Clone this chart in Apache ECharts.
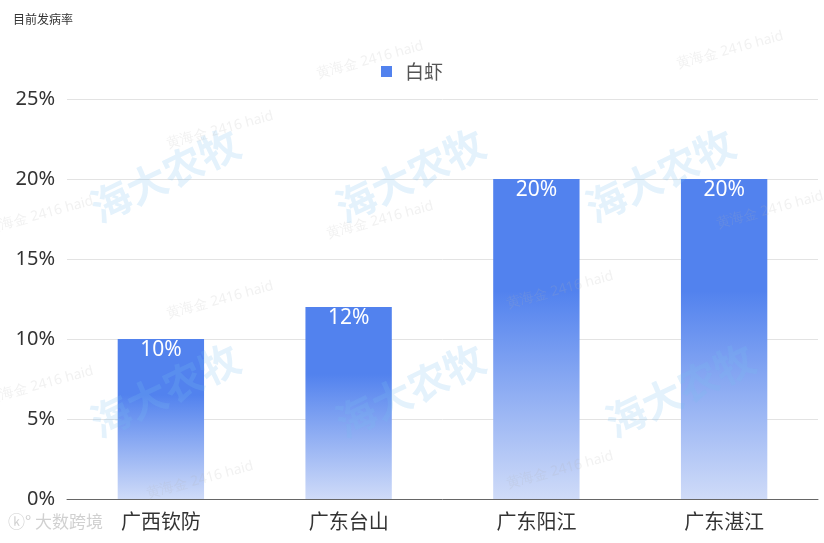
<!DOCTYPE html>
<html><head><meta charset="utf-8">
<script src="https://cdn.jsdelivr.net/npm/echarts@6/dist/echarts.min.js"></script>
<style>html,body{margin:0;padding:0;background:#fff}#c{width:824px;height:543px}</style>
</head><body><div id="c"></div>
<script>
const categories = ['广西钦防','广东台山','广东阳江','广东湛江'];
const seriesName = '白虾';
const values = [10, 12, 20, 20];
const yTicks = [0, 5, 10, 15, 20, 25];

const chart = echarts.init(document.getElementById('c'));
const wm = [];
const bigPos = [[165,175],[410,175],[660,175],[165,390],[410,390],[680,390]];
bigPos.forEach(p => wm.push({type:'text', x:p[0], y:p[1], rotation: Math.PI/7, z:100,
  style:{text:'海大农牧', font:'bold 40px "Noto Sans CJK SC"', fill:'rgba(120,190,240,0.2)', align:'center', verticalAlign:'middle'}}));
const smallPos = [[40,215],[370,60],[730,50],[220,300],[380,220],[560,290],[40,385],[200,480],[560,470],[770,210],[220,130]];
smallPos.forEach(p => wm.push({type:'text', x:p[0], y:p[1], rotation: Math.PI/12, z:100,
  style:{text:'黄海金 2416 haid', font:'14px "Noto Sans"', fill:'rgba(180,180,180,0.18)', align:'center', verticalAlign:'middle'}}));
wm.push({type:'text', left:8, top:513, z:100, style:{text:'ⓚ° 大数跨境', font:'17px "Noto Sans CJK SC"', fill:'rgba(170,170,170,0.55)'}});

chart.setOption({
  animation:false,
  title:{text:'目前发病率', left:8, top:8, textStyle:{fontSize:12, fontWeight:'normal', color:'#333', fontFamily:'"Noto Sans CJK SC"'}},
  legend:{top:57, left:'center', itemWidth:11, itemHeight:11, icon:'rect',
    itemStyle:{color:'#5282ee'},
    textStyle:{fontSize:19, color:'#555', padding:[0,0,0,8], fontFamily:'"Noto Sans CJK SC"'}, data:[seriesName]},
  grid:{left:67, right:6, top:99, bottom:44, containLabel:false},
  xAxis:{type:'category', data:categories,
    axisLine:{lineStyle:{color:'#666'}}, axisTick:{show:false},
    axisLabel:{fontSize:20, color:'#333', margin:12, fontFamily:'"Noto Sans CJK SC"'}},
  yAxis:{type:'value', min:0, max:25, interval:5,
    axisLine:{show:false}, axisTick:{show:false},
    splitLine:{lineStyle:{color:'#e3e3e3'}},
    axisLabel:{fontSize:20, color:'#333', margin:12, formatter:v => v + '%', fontFamily:'"Noto Sans"'}},
  series:[{
    name:seriesName, type:'bar', data:values, barWidth:'46%',
    itemStyle:{color:new echarts.graphic.LinearGradient(0,0,0,1,[
      {offset:0, color:'#5282ee'},{offset:0.35, color:'#5282ee'},{offset:1, color:'#cfdbf8'}])},
    label:{show:true, position:'insideTop', distance:1, color:'#fff', fontSize:21, formatter:'{c}%', fontFamily:'"Noto Sans"'}
  }],
  graphic: wm
});
</script></body></html>
